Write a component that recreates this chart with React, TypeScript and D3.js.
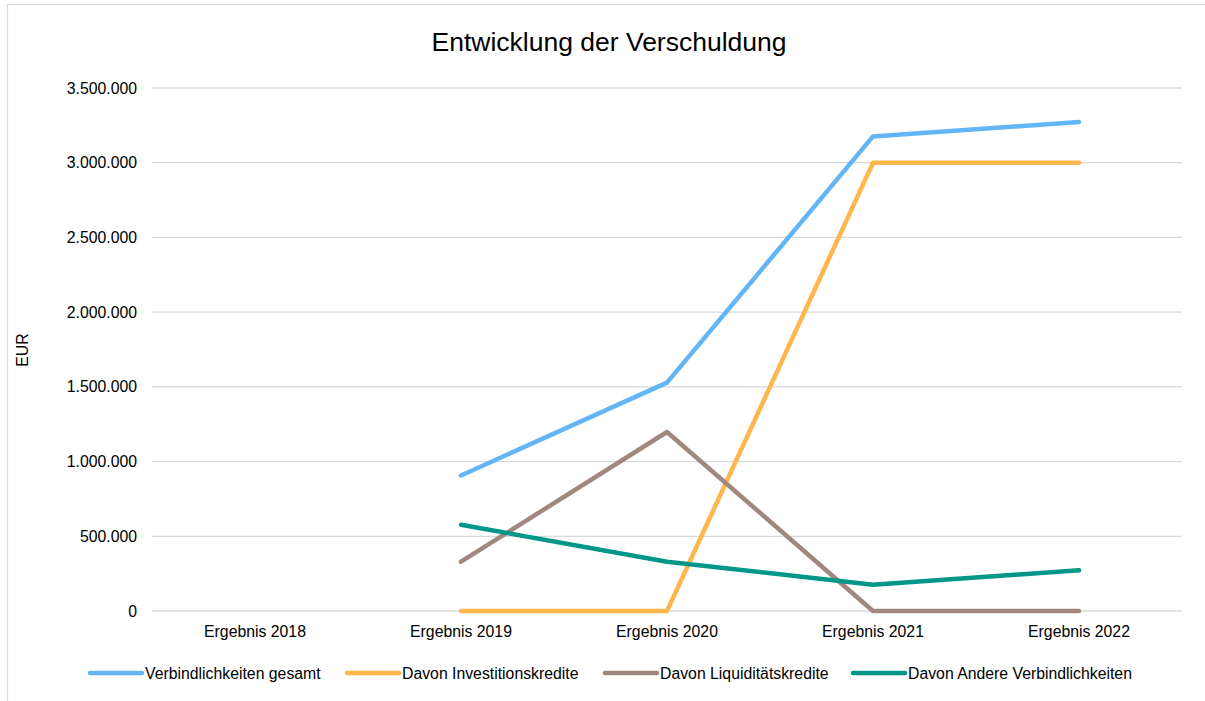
import React from "react";
import * as d3 from "d3";

const categories = ["Ergebnis 2018", "Ergebnis 2019", "Ergebnis 2020", "Ergebnis 2021", "Ergebnis 2022"];
const gesamt = [null, 907000, 1528000, 3176000, 3272000];
const investition = [null, 0, 0, 3000000, 3000000];
const liquiditaet = [null, 330000, 1198000, 0, 0];
const andere = [null, 577000, 330000, 176000, 272000];
const yTicks = [0, 500000, 1000000, 1500000, 2000000, 2500000, 3000000, 3500000];

const series = [
  { name: "Verbindlichkeiten gesamt", values: gesamt, color: "#64b5f6" },
  { name: "Davon Investitionskredite", values: investition, color: "#ffb74d" },
  { name: "Davon Liquiditätskredite", values: liquiditaet, color: "#a1887f" },
  { name: "Davon Andere Verbindlichkeiten", values: andere, color: "#009688" },
];
const legendX = [88, 345, 603, 851];

const fmt = (v: number) => (v === 0 ? "0" : d3.format(",")(v).replace(/,/g, "."));

export default function App() {
  const W = 1205, H = 701;
  const left = 152, right = 1182, top = 88, bottom = 611;
  const x = d3.scaleBand().domain(categories).range([left, right]);
  const y = d3.scaleLinear().domain([0, 3500000]).range([bottom, top]);
  const font = "Liberation Sans, Arial, sans-serif";
  const fs = 15.8;
  const line = d3
    .line<number | null>()
    .defined((d) => d !== null)
    .x((_, i) => (x(categories[i]) as number) + x.bandwidth() / 2)
    .y((d) => y(d as number));
  return (
    <svg width={W} height={H} style={{ position: "absolute", left: 0, top: 0 }} fontFamily={font}>
      <rect x={0} y={0} width={W} height={H} fill="#fff" />
      <rect x={7.5} y={4.5} width={W + 10} height={H + 10} fill="#fff" stroke="#d9d9d9" strokeWidth={1.2} />
      <text x={609} y={51} textAnchor="middle" fontSize={26.5} fill="#000">Entwicklung der Verschuldung</text>
      {yTicks.map((t) => (
        <g key={t}>
          <line x1={left} x2={right} y1={y(t)} y2={y(t)} stroke="#d9d9d9" strokeWidth={1.3} />
          <text x={137} y={y(t) + 5.5} textAnchor="end" fontSize={fs} fill="#000">{fmt(t)}</text>
        </g>
      ))}
      {categories.map((c) => (
        <text key={c} x={(x(c) as number) + x.bandwidth() / 2} y={637} textAnchor="middle" fontSize={fs} fill="#000">{c}</text>
      ))}
      <text transform={`translate(28,350) rotate(-90)`} textAnchor="middle" fontSize={fs} fill="#000">EUR</text>
      {series.map((s) => (
        <path key={s.name} d={line(s.values) || ""} fill="none" stroke={s.color} strokeWidth={4.5} strokeLinecap="round" strokeLinejoin="round" />
      ))}
      {series.map((s, i) => (
        <g key={s.name}>
          <line x1={legendX[i] + 2} x2={legendX[i] + 54} y1={673} y2={673} stroke={s.color} strokeWidth={4.5} strokeLinecap="round" />
          <text x={legendX[i] + 57} y={679} fontSize={fs} fill="#000">{s.name}</text>
        </g>
      ))}
    </svg>
  );
}
